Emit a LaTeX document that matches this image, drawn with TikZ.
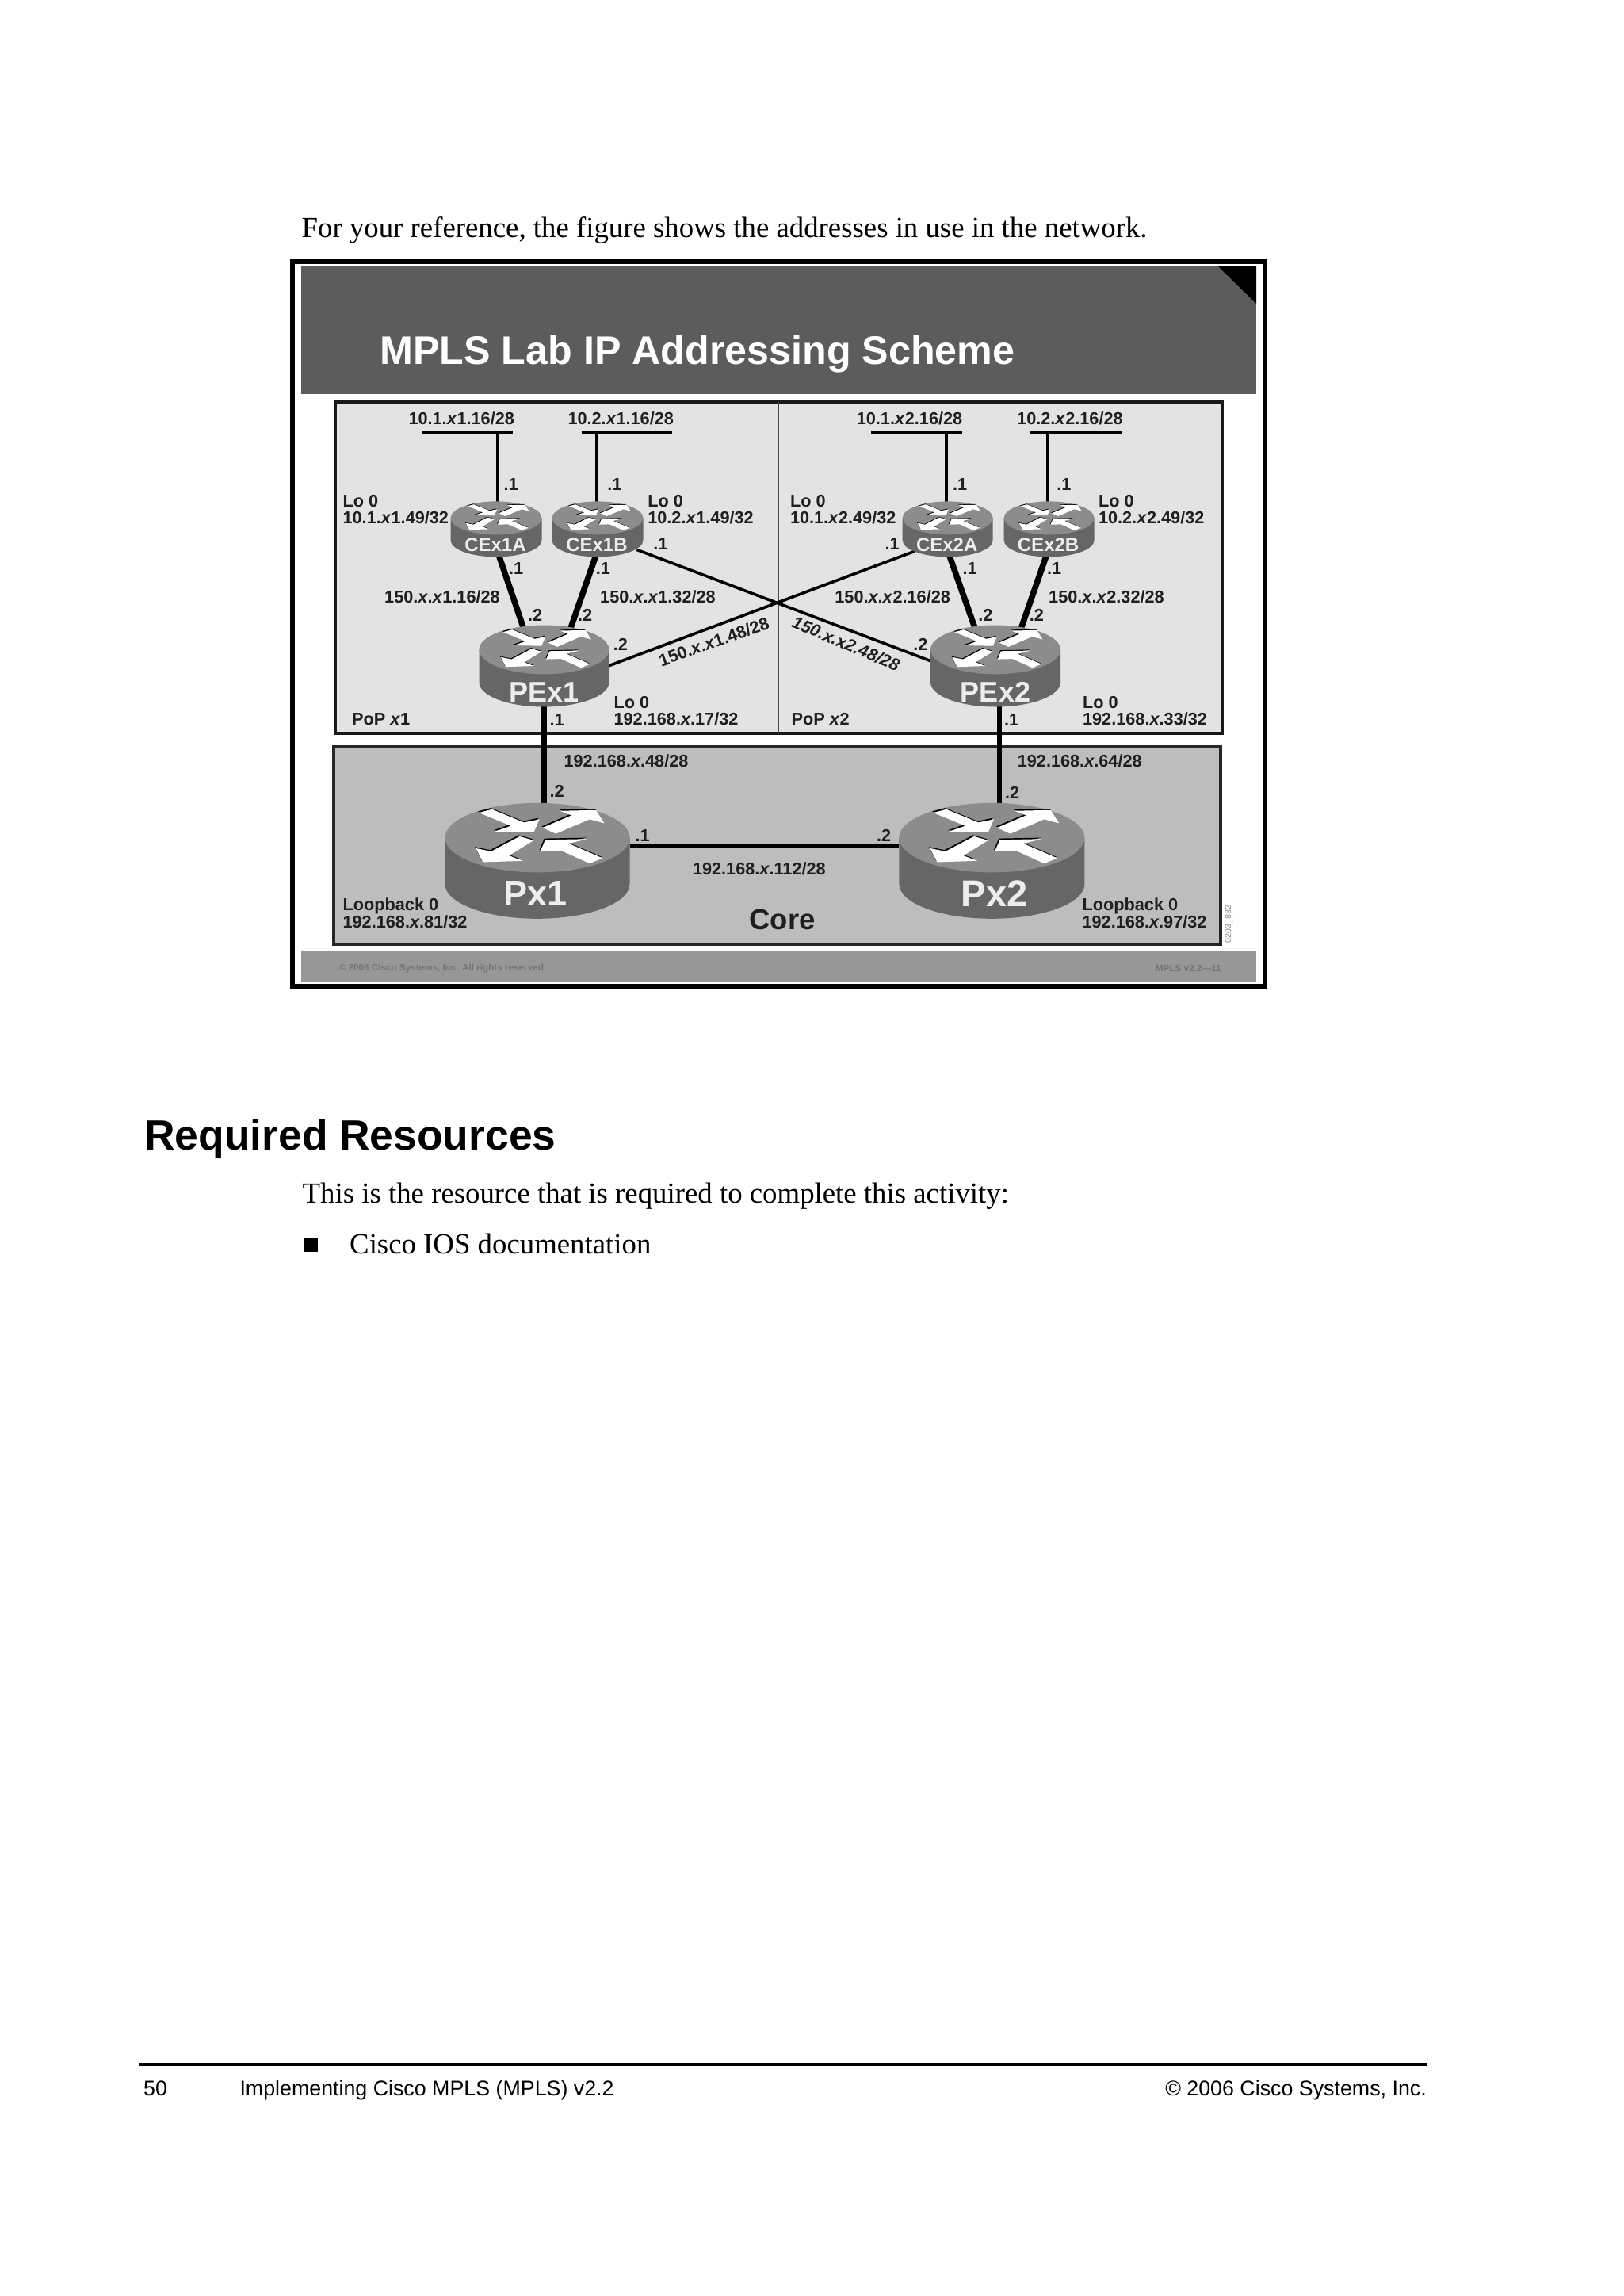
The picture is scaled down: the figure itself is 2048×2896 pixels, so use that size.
\documentclass[tikz,border=0pt]{standalone}
\usepackage{fontspec}
\setmainfont{Liberation Serif}
\setsansfont{Liberation Sans}

\definecolor{titlegray}{HTML}{5C5C5C}
\definecolor{popgray}{HTML}{E3E3E3}
\definecolor{coregray}{HTML}{BDBDBD}
\definecolor{footgray}{HTML}{979797}
\definecolor{foottext}{HTML}{747474}
\definecolor{topgray}{HTML}{8C8C8C}
\definecolor{sidegray}{HTML}{666666}
\definecolor{routertext}{HTML}{EDEDED}

\tikzset{
	lbl/.style={font=\sffamily\bfseries\fontsize{21.7}{21.7}\selectfont,text=black!88,anchor=base west,inner sep=0pt,outer sep=0pt},
	bodytext/.style={font=\rmfamily\fontsize{36.8}{36.8}\selectfont,anchor=base west,inner sep=0pt},
	foottxt/.style={font=\sffamily\fontsize{26.8}{26.8}\selectfont,inner sep=0pt},
	smallfoot/.style={font=\sffamily\bfseries\fontsize{11.7}{11.7}\selectfont,text=foottext,inner sep=0pt},
	routerspot/.style={inner sep=0pt,outer sep=0pt,minimum width=#1},
	routername/.style={font=\sffamily\bfseries,text=routertext,inner sep=0pt},
	thinlink/.style={line width=3.2pt,black},
	crosslink/.style={line width=3.6pt,black},
	thicklink/.style={line width=7.5pt,black},
	uplink/.style={line width=6.5pt,black},
	lanbar/.style={line width=3.6pt,black}
}

% arrows of the icon, in units of a 563 x 440 router
\newcommand{\routerarrows}{
	\fill (-178,183) -- (-138,196) -- (-41,146) -- (6,158) -- (-11,108) -- (-131,111) -- (-81,133) -- cycle;
	\fill (16,126) -- (104,173) -- (69,190) -- (179,193) -- (204,143) -- (159,158) -- (56,103) -- cycle;
	\fill (-54,93) -- (-11,78) -- (-86,20) -- (-44,0) -- (-166,-5) -- (-188,48) -- (-141,36) -- cycle;
	\fill (199,10) -- (159,-10) -- (74,38) -- (9,36) -- (24,80) -- (152,83) -- (96,66) -- cycle;
}

\newcommand{\routericon}[6]{
	\begin{scope}[shift={(#1.center)},x=1pt,y=1pt,xscale=#3/563,yscale=#4/440]
		\fill[sidegray] (-281.5,88) -- (-281.5,-88) arc (180:360:281.5 and 132) -- (281.5,88) -- cycle;
		\fill[topgray] (0,88) ellipse (281.5 and 132);
		\begin{scope}[shift={(-3,5)},black]
			\routerarrows
		\end{scope}
		\begin{scope}[white]
			\routerarrows
		\end{scope}
		\node[routername,font=\sffamily\bfseries\fontsize{#5}{#5}\selectfont] (#1name) at #6 {#2};
	\end{scope}
}

\newcommand{\xx}{\textit{x}}

\begin{document}
\begin{tikzpicture}[x=1pt,y=-1pt]

	\useasboundingbox (0,0) rectangle (2048,2896);

	\node[bodytext] (intro) at (380.5,299) {For your reference, the figure shows the addresses in use in the network.};

	% slide
	\draw[line width=6pt,black] (369,330) rectangle (1596,1244);
	\fill[titlegray] (380,336) rectangle (1585,497);
	\fill[black] (1537,336) -- (1585,336) -- (1585,383) -- cycle;
	\node[font=\sffamily\bfseries\fontsize{50.2}{50.2}\selectfont,text=white,anchor=base west,inner sep=0pt] (title) at (479.4,459) {MPLS Lab IP Addressing Scheme};

	\draw[line width=4pt,black!90,fill=popgray] (423,506.6) rectangle (1541.6,925);
	\draw[line width=1.6pt,black!70] (982,506.6) -- (982,925);
	\draw[line width=4pt,black!85,fill=coregray] (421.4,941.7) rectangle (1539.5,1190.7);

	\fill[footgray] (380,1200) rectangle (1585,1239);
	\node[smallfoot,anchor=west] (copy) at (427.6,1221.7) {© 2006 Cisco Systems, Inc. All rights reserved.};
	\node[smallfoot,anchor=east] (version) at (1540.7,1221.7) {MPLS v2.2—11};
	\node[font=\sffamily\fontsize{10.8}{10.8}\selectfont,text=black!45,rotate=90,inner sep=0pt] (figid) at (1550.5,1165.5) {0203\_882};

	% router positions
	\node[routerspot=115pt,minimum height=70pt] (CEx1A) at (626,667.4) {};
	\node[routerspot=115pt,minimum height=70pt] (CEx1B) at (754,667.4) {};
	\node[routerspot=114pt,minimum height=70pt] (CEx2A) at (1195.7,667.4) {};
	\node[routerspot=114pt,minimum height=70pt] (CEx2B) at (1323.6,667.4) {};
	\node[routerspot=164pt,minimum height=103pt] (PEx1) at (686.5,840) {};
	\node[routerspot=164pt,minimum height=103pt] (PEx2) at (1256,840) {};
	\node[routerspot=233pt,minimum height=146pt] (Px1) at (678,1085.8) {};
	\node[routerspot=234pt,minimum height=146pt] (Px2) at (1251.4,1085.8) {};

	% LAN stubs
	\coordinate (lanAl) at (533.3,546);
	\coordinate (lanAr) at (646.9,546);
	\coordinate (lanBl) at (734,546);
	\coordinate (lanBr) at (848.4,546);
	\coordinate (lanCl) at (1098.9,546);
	\coordinate (lanCr) at (1213.8,546);
	\coordinate (lanDl) at (1300,546);
	\coordinate (lanDr) at (1414.5,546);

	\draw[lanbar] (lanAl) -- (lanAr);
	\draw[lanbar] (lanBl) -- (lanBr);
	\draw[lanbar] (lanCl) -- (lanCr);
	\draw[lanbar] (lanDl) -- (lanDr);

	\draw[thinlink] ([xshift=2pt,yshift=-4pt]CEx1A.north) -- ([xshift=2pt]CEx1A.north |- lanAl);
	\draw[thinlink] ([xshift=-1.4pt,yshift=-4pt]CEx1B.north) -- ([xshift=-1.4pt]CEx1B.north |- lanBl);
	\draw[thinlink] ([xshift=-1.7pt,yshift=-4pt]CEx2A.north) -- ([xshift=-1.7pt]CEx2A.north |- lanCl);
	\draw[thinlink] ([xshift=-1.6pt,yshift=-4pt]CEx2B.north) -- ([xshift=-1.6pt]CEx2B.north |- lanDl);

	% links
	\draw[thicklink] ([xshift=2.7pt,yshift=4pt]CEx1A.south) -- ([xshift=-25.9pt,yshift=-4pt]PEx1.north);
	\draw[thicklink] ([xshift=-1.4pt,yshift=4pt]CEx1B.south) -- ([xshift=33.4pt,yshift=-4pt]PEx1.north);
	\draw[thicklink] ([xshift=1.3pt,yshift=4pt]CEx2A.south) -- ([xshift=-25.8pt,yshift=-4pt]PEx2.north);
	\draw[thicklink] ([xshift=-2.6pt,yshift=4pt]CEx2B.south) -- ([xshift=32.3pt,yshift=-4pt]PEx2.north);

	\draw[crosslink] ([xshift=-8pt,yshift=9pt]CEx1B.south east) -- ([xshift=1pt,yshift=6pt]PEx2.west);
	\draw[crosslink] ([xshift=-1pt]PEx1.east) -- ([xshift=15pt,yshift=7pt]CEx2A.south west);

	\draw[uplink] ([yshift=3pt]PEx1.south) -- ([yshift=-6pt]PEx1.south |- Px1.north);
	\draw[uplink] ([xshift=5pt,yshift=3pt]PEx2.south) -- ([xshift=9.6pt,yshift=-6pt]Px2.north);
	\draw[uplink] ([yshift=19pt]Px1.east) -- ([yshift=19pt]Px2.west);

	% routers
	\routericon{CEx1A}{CEx1A}{115}{70}{24}{(-5,-125)}
	\routericon{CEx1B}{CEx1B}{115}{70}{24}{(-5,-125)}
	\routericon{CEx2A}{CEx2A}{114}{70}{24}{(-5,-125)}
	\routericon{CEx2B}{CEx2B}{114}{70}{24}{(-5,-125)}
	\routericon{PEx1}{PEx1}{164}{103}{36}{(0,-140)}
	\routericon{PEx2}{PEx2}{164}{103}{36}{(0,-140)}
	\routericon{Px1}{Px1}{233}{146}{45}{(-5,-125)}
	\routericon{Px2}{Px2}{234}{146}{47}{(8,-125)}

	% PoP x1
	\node[lbl] (lanAnet) at (515.5,535.5) {10.1.\xx1.16/28};
	\node[lbl] (lanBnet) at (716.5,535.5) {10.2.\xx1.16/28};
	\node[lbl] (lanAip) at (635.7,618) {.1};
	\node[lbl] (lanBip) at (766.3,618) {.1};
	\node[lbl] (loAname) at (432.6,639.5) {Lo 0};
	\node[lbl] (loAaddr) at (432.6,660.8) {10.1.\xx1.49/32};
	\node[lbl] (loBname) at (817.3,639.5) {Lo 0};
	\node[lbl] (loBaddr) at (817.3,660.8) {10.2.\xx1.49/32};
	\node[lbl] (crossBip) at (824.3,693.7) {.1};
	\node[lbl] (ceAip) at (642,724) {.1};
	\node[lbl] (ceBip) at (751.8,724) {.1};
	\node[lbl] (linkAnet) at (485.2,760.9) {150.\xx.\xx1.16/28};
	\node[lbl] (linkBnet) at (757.2,760.9) {150.\xx.\xx1.32/28};
	\node[lbl] (peAip) at (666,783.8) {.2};
	\node[lbl] (peBip) at (729,783.8) {.2};
	\node[lbl] (peCip) at (773.8,820) {.2};
	\node[lbl,rotate=19.5] (crossAnet) at (834.7,841) {150.\xx.\xx1.48/28};
	\node[lbl] (loPEname) at (774.6,893.3) {Lo 0};
	\node[lbl] (loPEaddr) at (774.6,914.3) {192.168.\xx.17/32};
	\node[lbl] (popA) at (444.2,914.3) {PoP \xx1};
	\node[lbl] (peDip) at (693.7,915) {.1};

	% PoP x2
	\node[lbl] (lanCnet) at (1080.8,535.5) {10.1.\xx2.16/28};
	\node[lbl] (lanDnet) at (1283.2,535.5) {10.2.\xx2.16/28};
	\node[lbl] (lanCip) at (1202,618) {.1};
	\node[lbl] (lanDip) at (1333.3,618) {.1};
	\node[lbl] (loCname) at (997,639.5) {Lo 0};
	\node[lbl] (loCaddr) at (997,660.8) {10.1.\xx2.49/32};
	\node[lbl] (loDname) at (1386,639.5) {Lo 0};
	\node[lbl] (loDaddr) at (1386,660.8) {10.2.\xx2.49/32};
	\node[lbl] (crossCip) at (1116.6,693.7) {.1};
	\node[lbl] (ceCip) at (1214.6,724) {.1};
	\node[lbl] (ceDip) at (1321,724) {.1};
	\node[lbl] (linkCnet) at (1053.4,760.9) {150.\xx.\xx2.16/28};
	\node[lbl] (linkDnet) at (1323.2,760.9) {150.\xx.\xx2.32/28};
	\node[lbl] (peEip) at (1234.4,783.8) {.2};
	\node[lbl] (peFip) at (1298.8,783.8) {.2};
	\node[lbl] (peGip) at (1152.3,820) {.2};
	\node[lbl,rotate=-23,font=\sffamily\bfseries\itshape\fontsize{21.7}{21.7}\selectfont] (crossBnet) at (997.9,790.5) {150.x.x2.48/28};
	\node[lbl] (loPFname) at (1366.1,893.3) {Lo 0};
	\node[lbl] (loPFaddr) at (1366.1,914.3) {192.168.\xx.33/32};
	\node[lbl] (popB) at (998.7,914.3) {PoP \xx2};
	\node[lbl] (peHip) at (1267.2,915) {.1};

	% Core
	\node[lbl] (coreAnet) at (711.6,967.3) {192.168.\xx.48/28};
	\node[lbl] (coreBnet) at (1283.8,967.3) {192.168.\xx.64/28};
	\node[lbl] (pAip) at (693.7,1005.7) {.2};
	\node[lbl] (pBip) at (1268,1007) {.2};
	\node[lbl] (pCip) at (801.5,1061) {.1};
	\node[lbl] (pDip) at (1106,1061) {.2};
	\node[lbl] (coreCnet) at (874,1103.3) {192.168.\xx.112/28};
	\node[lbl] (loPname) at (432.6,1148.3) {Loopback 0};
	\node[lbl] (loPaddr) at (432.6,1170.7) {192.168.\xx.81/32};
	\node[lbl] (loQname) at (1365.6,1148.3) {Loopback 0};
	\node[lbl] (loQaddr) at (1365.6,1170.7) {192.168.\xx.97/32};
	\node[lbl,font=\sffamily\bfseries\fontsize{36.5}{36.5}\selectfont] (core) at (945.4,1172.7) {Core};

	% rest of the page
	\node[font=\sffamily\bfseries\fontsize{53.4}{53.4}\selectfont,anchor=base west,inner sep=0pt] (heading) at (182,1450.7) {Required Resources};
	\node[bodytext] (resource) at (381.5,1517.3) {This is the resource that is required to complete this activity:};
	\node[fill=black,inner sep=0pt,minimum size=18pt] (bullet) at (391.5,1569.5) {};
	\node[bodytext] (doc) at (441,1581) {Cisco IOS documentation};

	\draw[line width=3.6pt,black] (175.3,2604) -- (1800,2604);
	\node[foottxt,anchor=base west] (page) at (181,2643.3) {50};
	\node[foottxt,anchor=base west] (course) at (302.3,2643.3) {Implementing Cisco MPLS (MPLS) v2.2};
	\node[foottxt,anchor=base east] (rights) at (1800,2643.3) {© 2006 Cisco Systems, Inc.};

\end{tikzpicture}
\end{document}
